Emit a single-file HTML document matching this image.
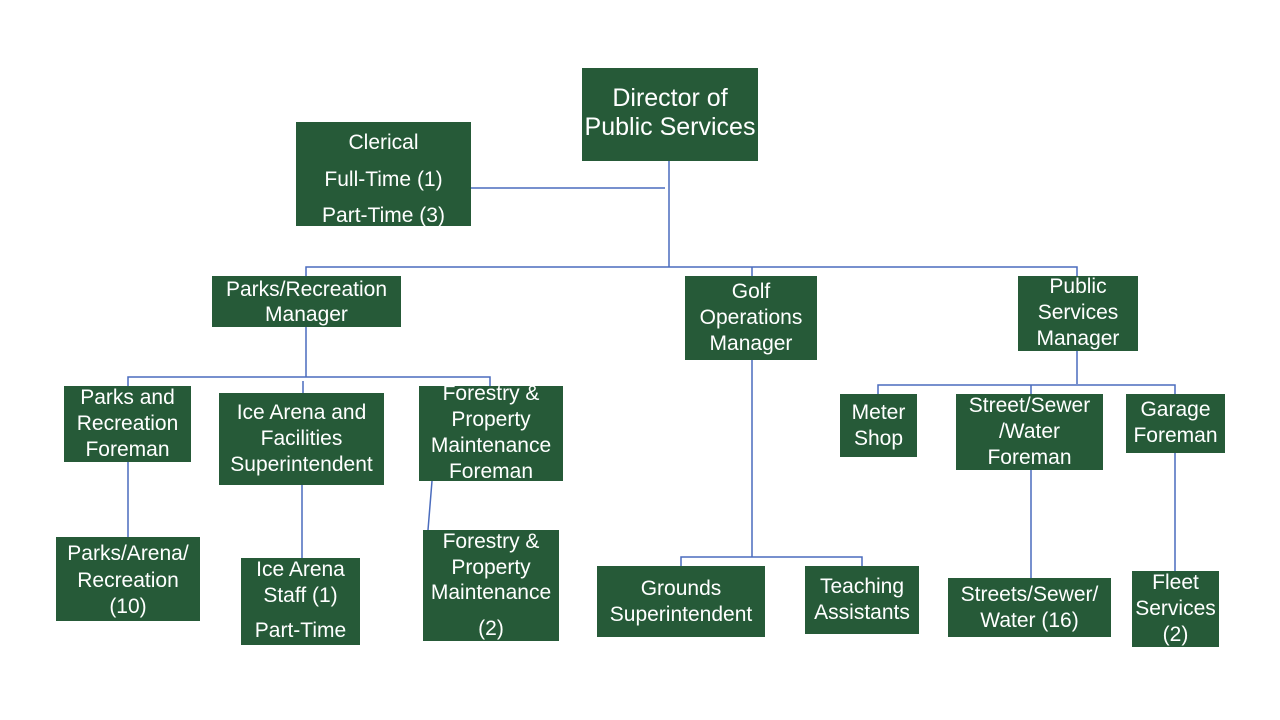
<!DOCTYPE html>
<html><head><meta charset="utf-8"><style>
body{margin:0;width:1280px;height:720px;background:#fff;position:relative;overflow:hidden;font-family:"Liberation Sans","DejaVu Sans",sans-serif}
.b{position:absolute;background:#265a38}
.t{position:absolute;left:-20px;right:-20px;text-align:center;color:#fff;font-size:21px;line-height:24px;white-space:nowrap}
svg{position:absolute;left:0;top:0}
</style></head><body>
<svg width="1280" height="720"><g stroke="#4a6cbd" stroke-width="1.5" fill="none">
<path d="M471 188H665M669 161V267M306 276V267H1077V276M752 267V276"/>
<path d="M306 327V377M128 386V377H490V386M303 393V381"/>
<path d="M128 462V537M302 485V558M432 481L428 530"/>
<path d="M752 360V557M681 566V557H862V566"/>
<path d="M1077 351V384M878 394V385H1175V394M1031 394V385"/>
<path d="M1031 470V578M1175 453V571"/>
</g></svg>
<div id="c"></div>
<script>
const B=[
[582,68,176,93,24,[98,127]],
[296,122,175,104,21,[137,173,210],["Clerical","Full-Time (1)","Part-Time (3)"]],
];
</script>
<div class="b" style="left:582px;top:68px;width:176px;height:93px"><div class="t" style="top:16px;font-size:25px;line-height:29px">Director of<br>Public Services</div></div>
<div class="b" style="left:296px;top:122px;width:175px;height:104px"><div class="t" style="top:3px;line-height:36.5px">Clerical<br>Full-Time (1)<br>Part-Time (3)</div></div>
<div class="b" style="left:212px;top:276px;width:189px;height:51px"><div class="t" style="top:1px;line-height:25px">Parks/Recreation<br>Manager</div></div>
<div class="b" style="left:685px;top:276px;width:132px;height:84px"><div class="t" style="top:3px;line-height:26px">Golf<br>Operations<br>Manager</div></div>
<div class="b" style="left:1018px;top:276px;width:120px;height:75px"><div class="t" style="top:-2px;line-height:26px">Public<br>Services<br>Manager</div></div>
<div class="b" style="left:64px;top:386px;width:127px;height:76px"><div class="t" style="top:-1px;line-height:26px">Parks and<br>Recreation<br>Foreman</div></div>
<div class="b" style="left:219px;top:393px;width:165px;height:92px"><div class="t" style="top:7px;line-height:26px">Ice Arena and<br>Facilities<br>Superintendent</div></div>
<div class="b" style="left:419px;top:386px;width:144px;height:95px"><div class="t" style="top:-5px;line-height:26px">Forestry &amp;<br>Property<br>Maintenance<br>Foreman</div></div>
<div class="b" style="left:56px;top:537px;width:144px;height:84px"><div class="t" style="top:4px;line-height:26.5px">Parks/Arena/<br>Recreation<br>(10)</div></div>
<div class="b" style="left:241px;top:558px;width:119px;height:87px"><div class="t" style="top:-1px;line-height:26px">Ice Arena<br>Staff (1)</div><div class="t" style="top:61px">Part-Time</div></div>
<div class="b" style="left:423px;top:530px;width:136px;height:111px"><div class="t" style="top:-1px;line-height:25.5px">Forestry &amp;<br>Property<br>Maintenance</div><div class="t" style="top:87px">(2)</div></div>
<div class="b" style="left:597px;top:566px;width:168px;height:71px"><div class="t" style="top:10px;line-height:26px">Grounds<br>Superintendent</div></div>
<div class="b" style="left:805px;top:566px;width:114px;height:68px"><div class="t" style="top:8px;line-height:26px">Teaching<br>Assistants</div></div>
<div class="b" style="left:840px;top:394px;width:77px;height:63px"><div class="t" style="top:6px;line-height:26px">Meter<br>Shop</div></div>
<div class="b" style="left:956px;top:394px;width:147px;height:76px"><div class="t" style="top:-1px;line-height:26px">Street/Sewer<br>/Water<br>Foreman</div></div>
<div class="b" style="left:1126px;top:394px;width:99px;height:59px"><div class="t" style="top:3px;line-height:26px">Garage<br>Foreman</div></div>
<div class="b" style="left:948px;top:578px;width:163px;height:59px"><div class="t" style="top:4px;line-height:26px">Streets/Sewer/<br>Water (16)</div></div>
<div class="b" style="left:1132px;top:571px;width:87px;height:76px"><div class="t" style="top:-1px;line-height:26px">Fleet<br>Services<br>(2)</div></div>
</body></html>
